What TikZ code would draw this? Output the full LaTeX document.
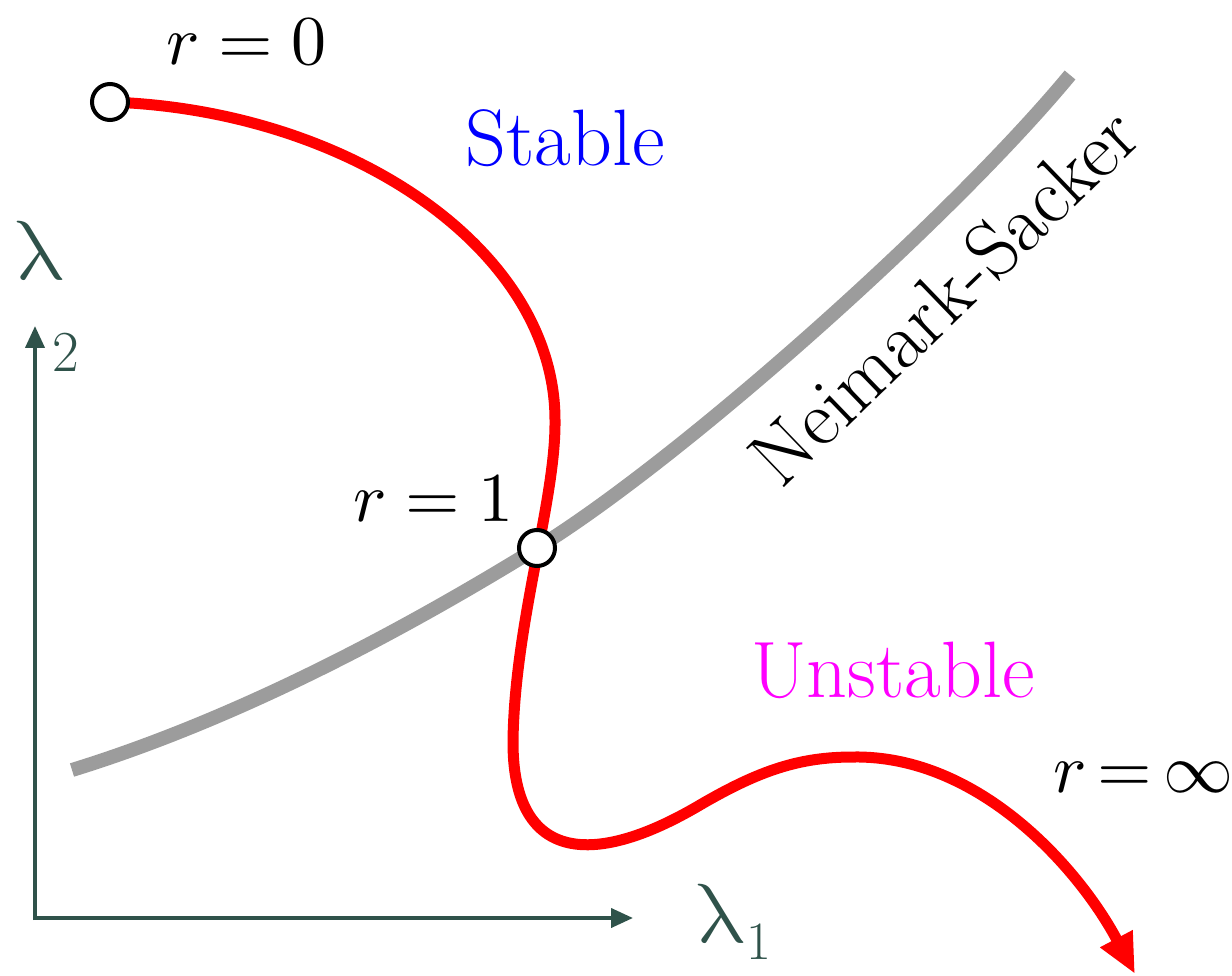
\documentclass[tikz,border=0pt]{standalone}
\usepackage{fontspec}
\usepackage{unicode-math}
\setmathfont{Latin Modern Math}
\usepackage{xcolor}
\definecolor{axisslate}{HTML}{2F524A}
\definecolor{nsgray}{HTML}{9C9C9C}
\definecolor{stabblue}{RGB}{0,0,255}
\definecolor{unstabpink}{RGB}{255,0,255}
\definecolor{branchred}{RGB}{255,0,0}
\usepackage{tikz}
\usetikzlibrary{arrows.meta,positioning,calc}

\begin{document}
\begin{tikzpicture}[
  x=1pt, y=-1pt,
  font=\fontsize{80}{82}\selectfont,
  ring/.style={circle, draw=black, line width=4pt, fill=white,
               minimum size=36pt, inner sep=0pt},
  axis/.style={-{Triangle[length=22pt,width=19pt]}, line width=4pt, axisslate},
  branch/.style={-{Triangle[length=40pt,width=34pt]}, line width=11pt, branchred},
  nsband/.style={line width=14pt, nsgray},
  lbl/.style={anchor=base west, inner sep=0pt},
  rlbl/.style={anchor=base west, inner sep=0pt, font=\fontsize{70}{72}\selectfont},
  ax/.style={anchor=base west, inner sep=0pt, text=axisslate},
]
\useasboundingbox (0,0) rectangle (1232,976);

% ---------- the two axes
\coordinate (O) at (35,920);
\coordinate (ytip) at (35,326);
\coordinate (xtip) at (633,918);
\draw[axis] (O) -- (ytip);
\draw[axis] (35,918) -- (xtip);
\node[ax, font=\fontsize{84}{86}\selectfont] (lam2) at (15,280) {$\symup{\lambda}$};
\node[ax, font=\fontsize{58}{60}\selectfont] (sub2) at (52,371) {2};
\node[ax, font=\fontsize{84}{86}\selectfont] (lam1) at (696,942) {$\symup{\lambda}$};
\node[ax, font=\fontsize{54}{56}\selectfont] (sub1) at (746,959) {1};

% ---------- Neimark-Sacker curve
\coordinate (nsA) at (72,770);
\coordinate (nsB) at (1070,75);
\coordinate (p1) at (537,548);
\draw[nsband] (nsA) .. controls (250,715) and (420,620) .. (p1)
  .. controls (680,460) and (950,220) .. (nsB);
\node[inner sep=0pt, rotate=44] (ns) at (944,296) {Neimark-Sacker};

% ---------- the branch from r=0 to r=infinity
\coordinate (p0) at (110,102);
\coordinate (pinf) at (1135,974);
\draw[branch] (p0) .. controls (350,110) and (555,250) .. (555,420)
  .. controls (556,500) and (515,620) .. (513,740)
  .. controls (512,860) and (590,870) .. (700,805)
  .. controls (760,770) and (800,757) .. (853,757)
  .. controls (980,755) and (1080,870) .. (pinf);
\node[ring] (r0) at (p0) {};
\node[ring] (r1) at (p1) {};

% ---------- labels
\node[rlbl] (l0) at (166,65) {$r = 0$};
\node[rlbl] (l1) at (353,521) {$r = 1$};
\node[rlbl] (linf) at (1053,792) {$r\mskip-2mu=\mskip-2mu\infty$};
\node[lbl, text=stabblue] (stab) at (465,166) {Stable};
\node[lbl, text=unstabpink] (unstab) at (751,697) {Unstable};
\end{tikzpicture}
\end{document}
